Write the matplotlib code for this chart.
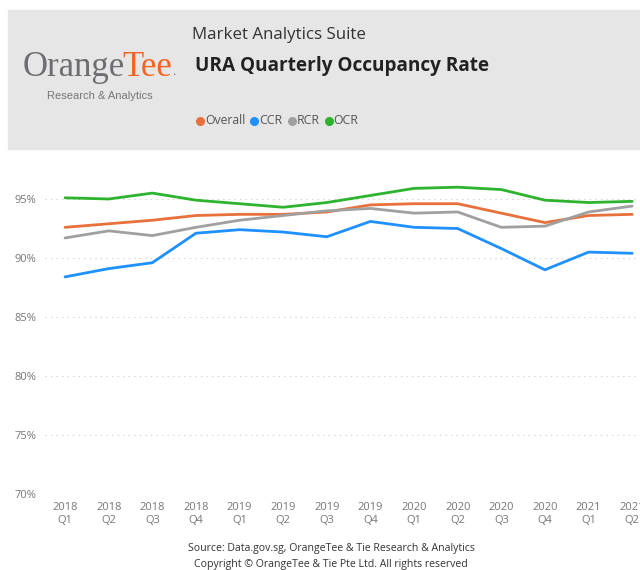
import matplotlib
matplotlib.use("Agg")
import matplotlib.pyplot as plt
import numpy as np

plt.rcParams['font.family'] = ['Open Sans', 'DejaVu Sans']

# quarters on the x axis
quarters = ["2018\nQ1", "2018\nQ2", "2018\nQ3", "2018\nQ4",
            "2019\nQ1", "2019\nQ2", "2019\nQ3", "2019\nQ4",
            "2020\nQ1", "2020\nQ2", "2020\nQ3", "2020\nQ4",
            "2021\nQ1", "2021\nQ2"]

# occupancy rates (%)
overall = [92.6, 92.9, 93.2, 93.6, 93.7, 93.7, 93.9, 94.5, 94.6, 94.6, 93.8, 93.0, 93.6, 93.7]
ccr = [88.4, 89.1, 89.6, 92.1, 92.4, 92.2, 91.8, 93.1, 92.6, 92.5, 90.8, 89.0, 90.5, 90.4]
rcr = [91.7, 92.3, 91.9, 92.6, 93.2, 93.6, 94.0, 94.2, 93.8, 93.9, 92.6, 92.7, 93.9, 94.4]
ocr = [95.1, 95.0, 95.5, 94.9, 94.6, 94.3, 94.7, 95.3, 95.9, 96.0, 95.8, 94.9, 94.7, 94.8]

series_names = ["Overall", "CCR", "RCR", "OCR"]
series_colors = ["#E8703A", "#1E90FF", "#A0A0A0", "#2DB32D"]
yticks = [70, 75, 80, 85, 90, 95]

W, H = 640, 570
fig = plt.figure(figsize=(W / 100, H / 100), dpi=100)

# header panel, drawn in pixel coords
hdr = fig.add_axes([0, 0, 1, 1])
hdr.set_xlim(0, W)
hdr.set_ylim(H, 0)
hdr.axis("off")
hdr.add_patch(plt.Rectangle((8, 10), W - 8, 139, color="#E6E6E6", zorder=0))

# logo
logo = hdr.text(23, 76, "Orange", fontsize=25, family="Liberation Serif",
                color="#6D6E71", va="baseline", ha="left")
fig.canvas.draw()
bb = logo.get_window_extent()
tee = hdr.text(bb.x1 - 3, 76, "Tee", fontsize=25, family="Liberation Serif",
               color="#F26522", va="baseline", ha="left")
fig.canvas.draw()
bb2 = tee.get_window_extent()
hdr.text(bb2.x1, 75, ".", fontsize=9, family="Liberation Serif",
         color="#6D6E71", va="baseline", ha="left")
hdr.text(100, 96, "Research & Analytics", fontsize=8, color="#777777",
         ha="center", va="center", family="Liberation Sans")

hdr.text(192, 35, "Market Analytics Suite", fontsize=12.2, color="#333333",
         ha="left", va="center")
hdr.text(195, 66, "URA Quarterly Occupancy Rate", fontsize=13.7, color="#222222",
         fontweight="bold", ha="left", va="center")

# legend
lx = 200
for name, c in zip(series_names, series_colors):
    hdr.plot(lx, 121, "o", color=c, markersize=5.5)
    t = hdr.text(lx + 5, 121, name, fontsize=8.8, color="#555555", ha="left", va="center")
    fig.canvas.draw()
    lx = t.get_window_extent().x1 + 9

# footer
hdr.text(331, 549, "Source: Data.gov.sg, OrangeTee & Tie Research & Analytics",
         fontsize=7.6, color="#333333", ha="center", va="center")
hdr.text(331, 564, "Copyright \u00a9 OrangeTee & Tie Pte Ltd. All rights reserved",
         fontsize=7.6, color="#333333", ha="center", va="center")

# main chart
left, right = 45, 654
top, bottom = 165, 494
ax = fig.add_axes([left / W, 1 - bottom / H, (right - left) / W, (bottom - top) / H])
ax.patch.set_alpha(0)
x = np.arange(len(quarters))
for vals, c in zip([overall, ccr, rcr, ocr], series_colors):
    ax.plot(x, vals, color=c, linewidth=2.0, solid_capstyle="round", zorder=3)

ax.set_xlim(-0.46, 13.5)
ax.set_ylim(70, 70 + (bottom - top) / 11.8)
ax.set_yticks(yticks)
ax.set_yticklabels([f"{v}%" for v in yticks])
ax.set_xticks(x)
ax.set_xticklabels(quarters)
ax.grid(axis="y", color="#C8C8C8", linestyle=(0, (1, 4)), linewidth=0.8)
ax.grid(axis="x", visible=False)
for s in ax.spines.values():
    s.set_visible(False)
ax.tick_params(length=0, labelsize=8, colors="#777777")
ax.tick_params(axis="x", pad=6)
ax.tick_params(axis="y", pad=6)

fig.savefig("out.png", dpi=100)
